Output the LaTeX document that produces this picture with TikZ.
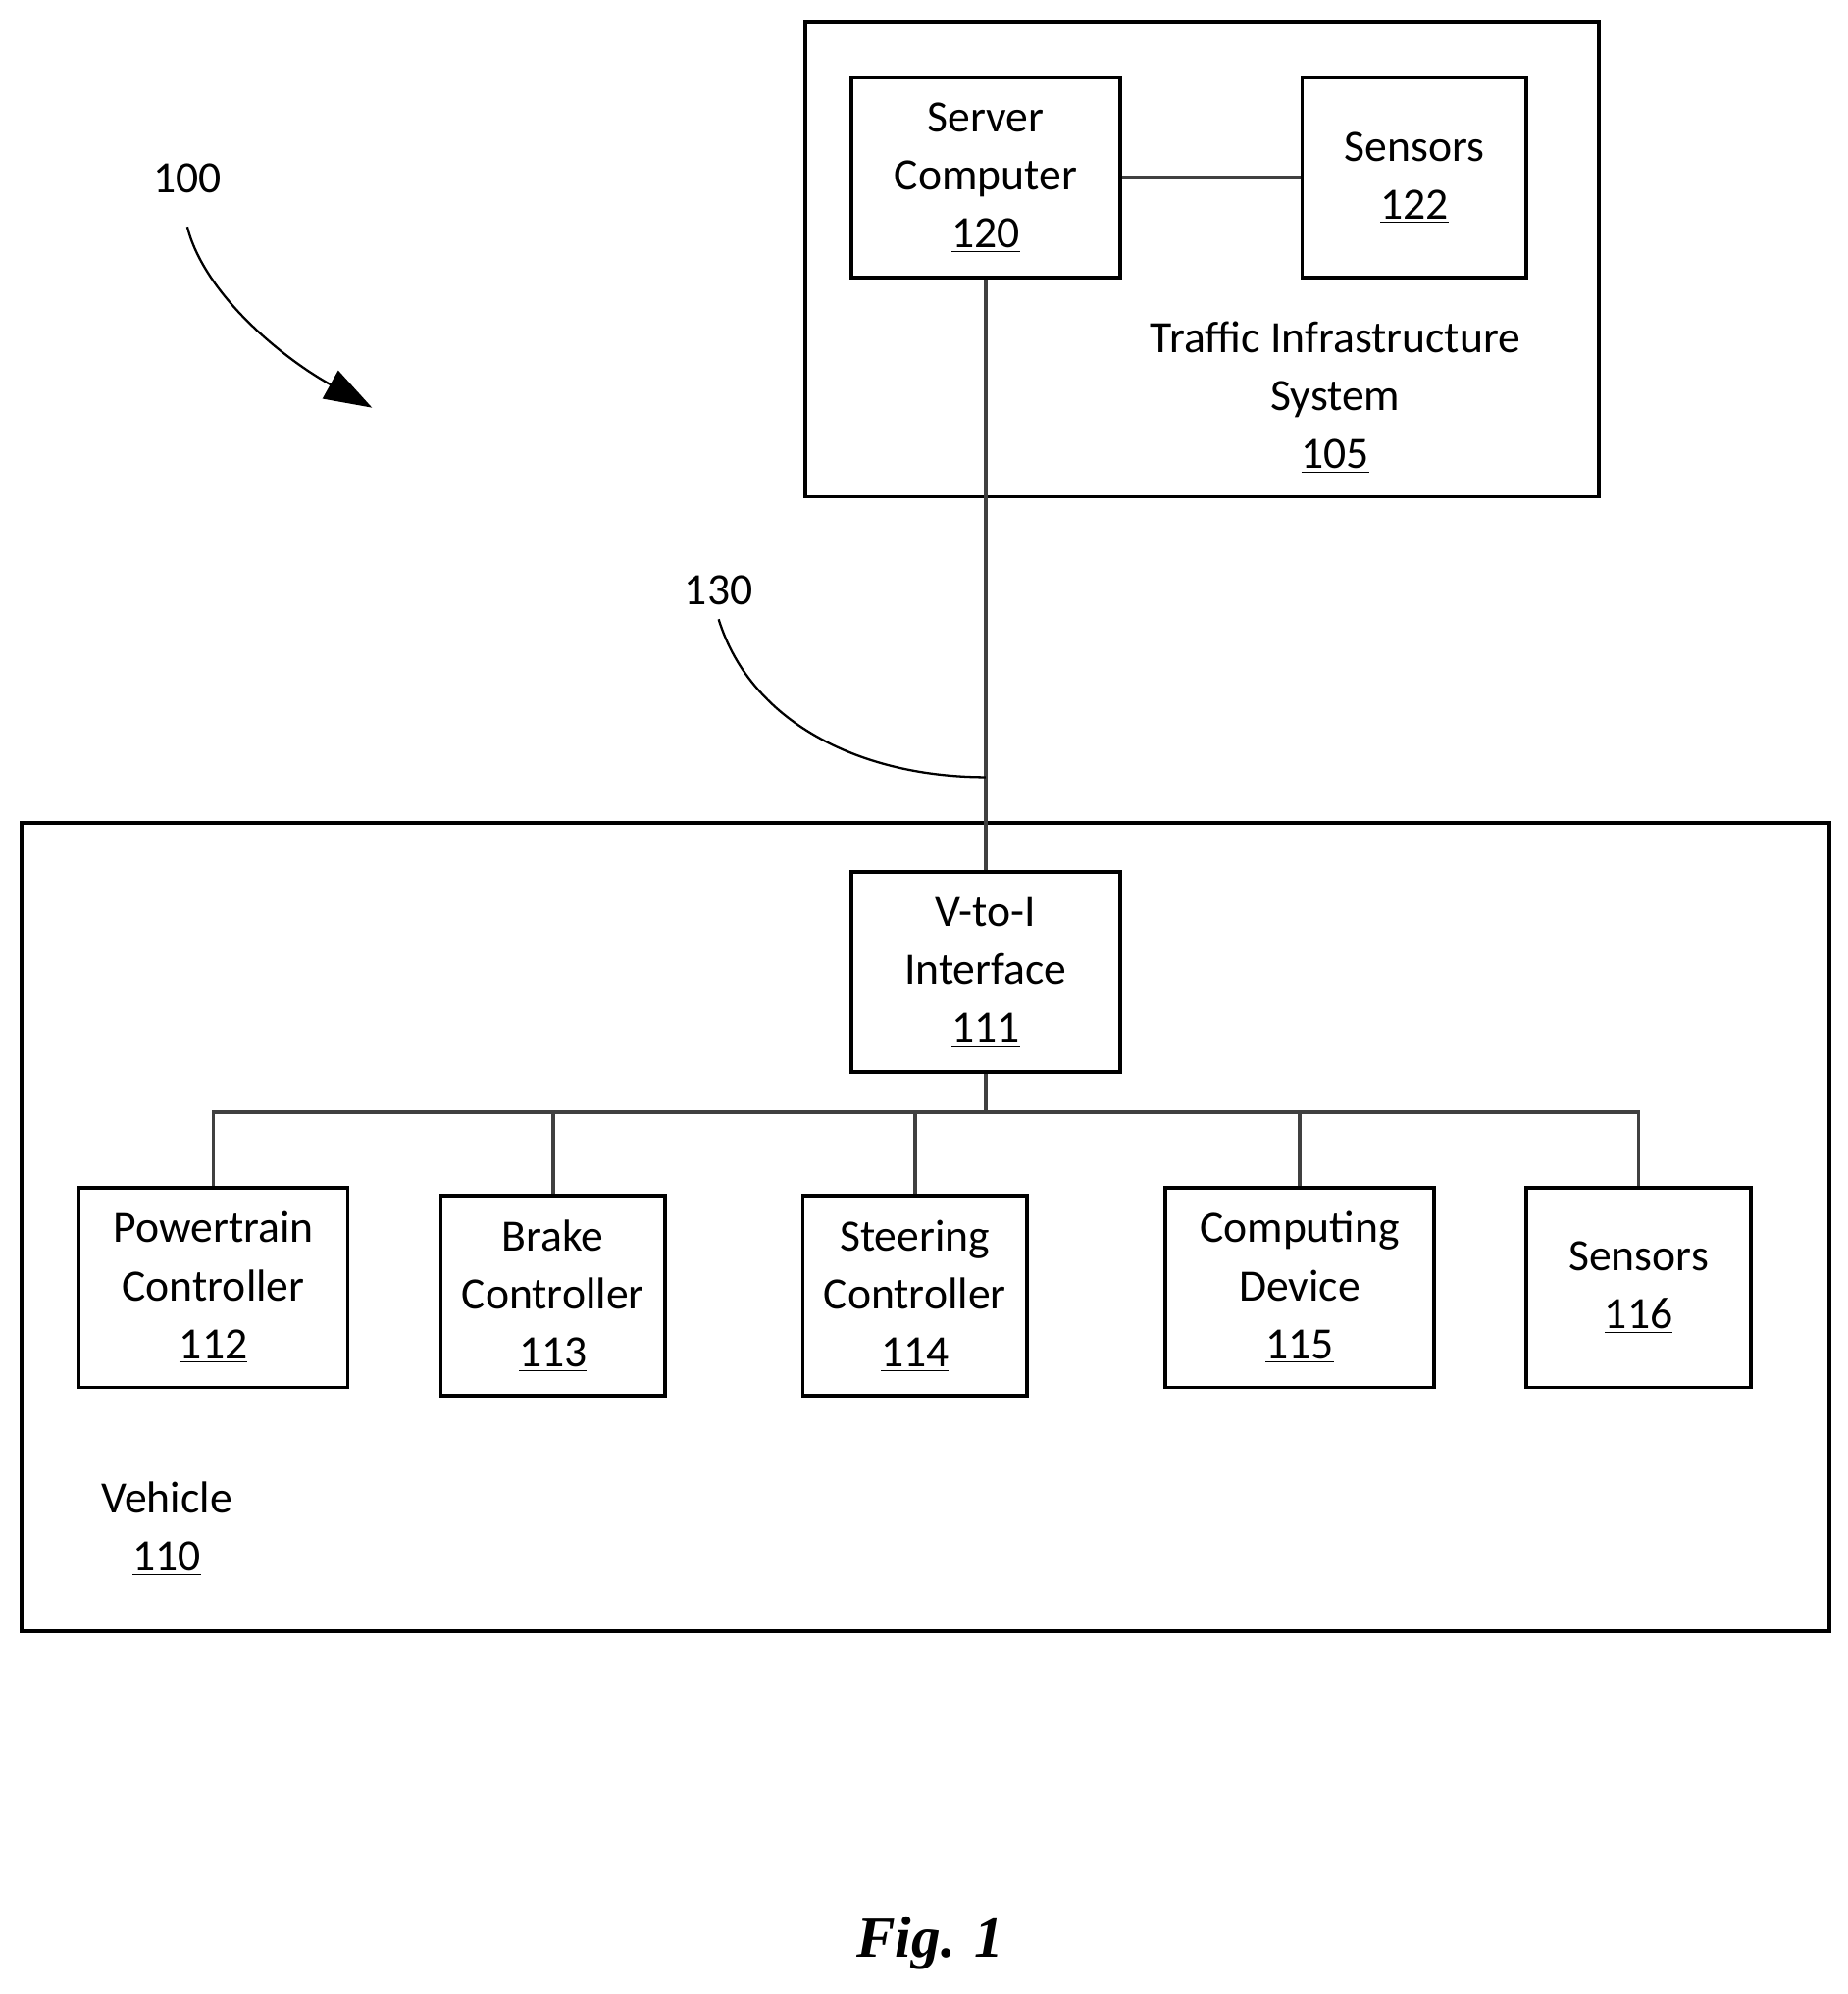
\documentclass[tikz,border=0pt]{standalone}
\usepackage{fontspec}
\setmainfont{Carlito}
\newfontfamily\figfont{Liberation Serif}
\usetikzlibrary{arrows.meta, positioning, calc}

\begin{document}
\begin{tikzpicture}[x=0.02cm, y=-0.02cm]
\tikzstyle{box} = [rectangle, draw=black, line width=1.6pt, minimum height=3.14cm, text centered, align=center, font=\fontsize{20}{26}\selectfont, inner sep=0pt]
\tikzstyle{frame} = [rectangle, draw=black, line width=1.6pt, inner sep=0pt]
\tikzstyle{link} = [line width=1.6pt, draw=black!75]
\tikzstyle{lbl} = [font=\fontsize{20}{26}\selectfont, align=center]
\useasboundingbox (0,0) rectangle (1450,1565);

% Traffic infrastructure
\node[frame, minimum width=12.46cm, minimum height=7.46cm] (infra) at (943.5,203.5) {};
\node[box, minimum width=4.22cm] (server) at (773.5,139.5) {Server\\Computer\\\underline{120}};
\node[box, minimum width=3.52cm] (sens122) at (1110,139.5) {Sensors\\\underline{122}};
\node[lbl] (infralbl) at (1048,312) {Traffic Infrastructure\\System\\\underline{105}};

% Vehicle
\node[frame, minimum width=28.38cm, minimum height=12.68cm] (vehicle) at (726.5,963) {};
\node[box, minimum width=4.22cm] (vti) at (773.5,763) {V-to-I\\Interface\\\underline{111}};
\node[box, minimum width=4.22cm] (power) at (167.5,1010.5) {Powertrain\\Controller\\\underline{112}};
\node[box, minimum width=3.52cm] (brake) at (434,1017) {Brake\\Controller\\\underline{113}};
\node[box, minimum width=3.52cm] (steer) at (718,1017) {Steering\\Controller\\\underline{114}};
\node[box, minimum width=4.22cm] (comp) at (1020,1010.5) {Computing\\Device\\\underline{115}};
\node[box, minimum width=3.52cm] (sens116) at (1286,1010.5) {Sensors\\\underline{116}};
\node[lbl] (vehlbl) at (131,1200) {Vehicle\\\underline{110}};

% Reference numerals
\node[lbl] (ref100) at (147,140) {100};
\node[lbl] (ref130) at (564,463) {130};
\node[font=\figfont\bfseries\itshape\fontsize{26}{30}\selectfont] (fig) at (730,1525) {Fig. 1};

% Connections
\coordinate (bus) at (773.5,873);
\coordinate (tap) at (773.5,610);
\draw[link] (server.east) -- (sens122.west);
\draw[link] (server.south) -- (vti.north);
\draw[link] (vti.south) -- (bus);
\foreach \c in {power, brake, steer, comp, sens116}
  \draw[link] (bus) -| (\c.north);

% Leaders
\draw[line width=1pt, -{Triangle[length=0.75cm, width=0.5cm]}] (147,178) .. controls (160,230) and (220,280) .. (292,320);
\draw[line width=1pt] (564,486) .. controls (590,570) and (680,610) .. (tap);
\end{tikzpicture}
\end{document}
